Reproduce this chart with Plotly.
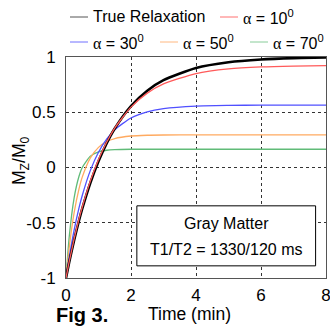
import plotly.graph_objects as go

# ---- data ----
t = [0, 0.1, 0.25, 0.4, 0.5, 0.75, 1, 1.25, 1.5, 2, 2.5, 3, 4, 5, 6, 7, 8]
true_relax = [-1, -0.855, -0.657, -0.480, -0.373, -0.138, 0.057, 0.219, 0.353, 0.556, 0.695, 0.790, 0.901, 0.953, 0.978, 0.990, 0.995]
alpha10 = [-1, -0.850, -0.646, -0.465, -0.357, -0.121, 0.072, 0.228, 0.357, 0.546, 0.673, 0.757, 0.850, 0.892, 0.910, 0.918, 0.922]
alpha30 = [-1, -0.809, -0.566, -0.366, -0.253, -0.026, 0.138, 0.256, 0.342, 0.448, 0.504, 0.533, 0.556, 0.562, 0.564, 0.565, 0.565]
alpha50 = [-1, -0.720, -0.408, -0.193, -0.087, 0.087, 0.182, 0.234, 0.262, 0.285, 0.292, 0.294, 0.295, 0.295, 0.295, 0.295, 0.295]
alpha70 = [-1, -0.624, -0.274, -0.079, 0.0, 0.103, 0.142, 0.156, 0.162, 0.165, 0.165, 0.165, 0.165, 0.165, 0.165, 0.165, 0.165]

x_ticks = [0, 2, 4, 6, 8]
y_ticks = [-1, -0.5, 0, 0.5, 1]
y_tick_labels = ["-1", "-0.5", "0", "0.5", "1"]

FONT = "Liberation Sans, Arial, sans-serif"
ALPHA = '<span style="font-family:Liberation Serif">α</span>'

series = [
    ("True Relaxation", true_relax, "#000000", 2.6, "#555555"),
    (ALPHA + " = 10<sup>0</sup>", alpha10, "#ff5a5a", 1.3, "#ff7070"),
    (ALPHA + " = 30<sup>0</sup>", alpha30, "#5050ff", 1.3, "#7070ff"),
    (ALPHA + " = 50<sup>0</sup>", alpha50, "#ffaa60", 1.3, "#ffb880"),
    (ALPHA + " = 70<sup>0</sup>", alpha70, "#60bb78", 1.3, "#88cc99"),
]

fig = go.Figure()
order = [4, 3, 2, 0, 1]
for i in order:
    name, ys, col, w, _ = series[i]
    fig.add_trace(go.Scatter(x=t, y=ys, mode="lines", name=name,
                             line=dict(color=col, width=w, shape="spline", smoothing=0.6),
                             showlegend=False, hoverinfo="skip"))

W, H = 330, 326
REF_L, REF_T, REF_R, REF_B = 66, 57, 326, 278   # plot area in pixels
L, T = REF_L, REF_T
pw, ph = REF_R - REF_L, REF_B - REF_T
R, B = W - L - pw, H - T - ph

def px2paper(px, py):
    return (px - REF_L) / pw, (REF_B - py) / ph

shapes = []
annotations = []
legend_pos = [(70, 17), (220, 17), (70, 42), (160, 42), (250, 42)]
for (name, ys, col, w, lcol), (lx, ly) in zip(series, legend_pos):
    x0, y0 = px2paper(lx, ly)
    x1, _ = px2paper(lx + 18, ly)
    shapes.append(dict(type="line", xref="paper", yref="paper", x0=x0, x1=x1, y0=y0, y1=y0,
                       line=dict(color=lcol, width=1)))
    tx, ty = px2paper(lx + 21, ly)
    annotations.append(dict(text=name, xref="paper", yref="paper", x=tx, y=ty,
                            xanchor="left", yanchor="middle", showarrow=False,
                            font=dict(family=FONT, size=16, color="black")))

shapes.append(dict(type="rect", xref="x", yref="y", x0=2.18, x1=7.68, y0=-0.89, y1=-0.347,
                   fillcolor="white", line=dict(color="black", width=1), layer="above"))
annotations.append(dict(text="Gray Matter", xref="x", yref="y", x=4.93, y=-0.51,
                        showarrow=False, font=dict(family=FONT, size=16, color="black")))
annotations.append(dict(text="T1/T2 = 1330/120 ms", xref="x", yref="y", x=4.93, y=-0.74,
                        showarrow=False, font=dict(family=FONT, size=16, color="black")))

fx, fy = px2paper(54, 315)
annotations.append(dict(text="<b>Fig 3.</b>", xref="paper", yref="paper", x=fx, y=fy,
                        xanchor="left", yanchor="middle", showarrow=False,
                        font=dict(family=FONT, size=20, color="black")))
xx, xy = px2paper(189, 314)
annotations.append(dict(text="Time (min)", xref="paper", yref="paper", x=xx, y=xy,
                        xanchor="center", yanchor="middle", showarrow=False,
                        font=dict(family=FONT, size=17.5, color="black")))
yx, yy = px2paper(20, 161)
annotations.append(dict(text="M<sub>Z</sub>/M<sub>0</sub>", xref="paper", yref="paper", x=yx, y=yy,
                        xanchor="center", yanchor="middle", showarrow=False, textangle=-90,
                        font=dict(family=FONT, size=17.5, color="black")))

fig.update_layout(
    width=W, height=H,
    margin=dict(l=L, r=R, t=T, b=B, autoexpand=False),
    paper_bgcolor="white", plot_bgcolor="white",
    showlegend=False,
    shapes=shapes, annotations=annotations,
    font=dict(family=FONT, size=16, color="black"),
)
fig.update_xaxes(range=[0, 8], tickvals=x_ticks, ticktext=[str(v) for v in x_ticks],
                 showgrid=True, gridcolor="#333333", griddash="3px,3px", gridwidth=1,
                 zeroline=False, showline=True, linecolor="#555555", linewidth=1, mirror=True,
                 ticks="", tickfont=dict(family=FONT, size=17), ticklabelstandoff=2,
                 ticklabeloverflow="allow")
fig.update_yaxes(range=[-1, 1], tickvals=y_ticks, ticktext=y_tick_labels,
                 showgrid=True, gridcolor="#333333", griddash="3px,3px", gridwidth=1,
                 zeroline=False, showline=True, linecolor="#555555", linewidth=1, mirror=True,
                 ticks="", tickfont=dict(family=FONT, size=17), ticklabelstandoff=6,
                 ticklabeloverflow="allow")

# remove the default page margin so the figure fills the window without scrollbars
fig.write_html("out.html",
               config={"displayModeBar": False, "staticPlot": True},
               post_script="document.body.style.margin='0';document.body.style.overflow='hidden';")
